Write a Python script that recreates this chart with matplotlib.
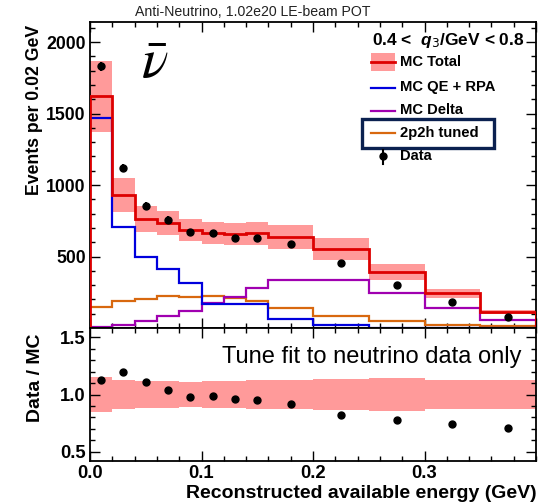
import matplotlib
matplotlib.use('Agg')
import matplotlib.pyplot as plt
import numpy as np
from matplotlib.lines import Line2D
from matplotlib.patches import Rectangle
from matplotlib.ticker import MultipleLocator

plt.rcParams['font.family'] = ['Liberation Sans', 'DejaVu Sans']
plt.rcParams['mathtext.fontset'] = 'custom'
plt.rcParams['mathtext.it'] = 'Liberation Sans:italic:bold'
plt.rcParams['mathtext.bf'] = 'Liberation Sans:bold'
plt.rcParams['mathtext.rm'] = 'Liberation Sans:bold'

# ---------------- data ----------------
bin_edges = [0.0, 0.02, 0.04, 0.06, 0.08, 0.10, 0.12, 0.14, 0.16, 0.20, 0.25, 0.30, 0.35, 0.40]
data_x = [0.01, 0.03, 0.05, 0.07, 0.09, 0.11, 0.13, 0.15, 0.18, 0.225, 0.275, 0.325, 0.375]
data_y = [1831, 1117, 853, 758, 672, 661, 631, 631, 589, 453, 302, 179, 74]
data_err = [32, 28, 25, 23, 22, 22, 21, 21, 17, 14, 11, 9, 6]
mc_total = [1621, 930, 762, 732, 683, 666, 656, 661, 637, 555, 390, 244, 111]
mc_err_frac = [0.154, 0.127, 0.116, 0.115, 0.113, 0.117, 0.115, 0.125, 0.13, 0.137, 0.14, 0.13, 0.125]
mc_qe = [1472, 705, 495, 413, 313, 170, 170, 168, 62, 20, 3, 1, 0]
mc_delta = [8, 22, 46, 87, 118, 174, 217, 280, 338, 335, 245, 143, 58]
mc_2p2h = [144, 187, 200, 225, 219, 224, 207, 190, 140, 86, 51, 23, 11]
ratio_y = [1.130, 1.197, 1.110, 1.035, 0.977, 0.991, 0.965, 0.951, 0.913, 0.817, 0.780, 0.745, 0.707]
ratio_err = [0.018, 0.025, 0.025, 0.025, 0.022, 0.022, 0.022, 0.024, 0.015, 0.012, 0.015, 0.02, 0.03]

legend_labels = ['MC Total', 'MC QE + RPA', 'MC Delta', '2p2h tuned', 'Data']

RED = '#dd0000'
BAND = '#ff9a9a'
BLUE = '#0000dd'
PURPLE = '#a000b0'
ORANGE = '#d8680f'
NAVY = '#0b2150'

W, H = 553, 503
fig = plt.figure(figsize=(W / 100, H / 100), dpi=100)

def fx(px):
    return px / W

def fy(py):
    return 1 - py / H

L, R = 90, 536
ax = fig.add_axes([fx(L), fy(328), fx(R) - fx(L), fy(22) - fy(328)])
axr = fig.add_axes([fx(L), fy(461), fx(R) - fx(L), fy(328) - fy(461)])

edges = np.array(bin_edges)
widths = np.diff(edges)
mc = np.array(mc_total, float)
frac = np.array(mc_err_frac)

# top panel
ax.bar(edges[:-1], 2 * mc * frac, bottom=mc * (1 - frac), width=widths, align='edge',
       color=BAND, linewidth=0, zorder=1)
ax.stairs(mc_2p2h, edges, color=ORANGE, lw=1.6, zorder=2)
ax.stairs(mc_delta, edges, color=PURPLE, lw=1.6, zorder=2)
ax.stairs(mc_qe, edges, color=BLUE, lw=1.6, zorder=2)
ax.stairs(mc_total, edges, color=RED, lw=2.0, zorder=3)
ax.errorbar(data_x, data_y, yerr=data_err, fmt='o', color='black', ms=5, elinewidth=1.5,
            capsize=0, zorder=4)
ax.set_xlim(0, 0.4)
ax.set_ylim(0, 2140)
ax.xaxis.set_major_locator(MultipleLocator(0.1))
ax.xaxis.set_minor_locator(MultipleLocator(0.02))
ax.yaxis.set_major_locator(MultipleLocator(500))
ax.yaxis.set_minor_locator(MultipleLocator(100))
ax.set_xticklabels([])
ax.set_yticks([500, 1000, 1500, 2000])
ax.set_yticklabels(['500', '1000', '1500', '2000'], fontsize=12.7, fontweight='bold')

# ratio panel
axr.bar(edges[:-1], 2 * frac, bottom=1 - frac, width=widths, align='edge',
        color=BAND, linewidth=0, zorder=1)
axr.errorbar(data_x, ratio_y, yerr=ratio_err, fmt='o', color='black', ms=5, elinewidth=1.5,
             capsize=0, zorder=4)
axr.set_xlim(0, 0.4)
axr.set_ylim(0.42, 1.58)
axr.xaxis.set_major_locator(MultipleLocator(0.1))
axr.xaxis.set_minor_locator(MultipleLocator(0.02))
axr.yaxis.set_major_locator(MultipleLocator(0.5))
axr.yaxis.set_minor_locator(MultipleLocator(0.1))
axr.set_xticks([0.0, 0.1, 0.2, 0.3])
axr.set_xticklabels(['0.0', '0.1', '0.2', '0.3'], fontsize=13.3, fontweight='bold')
axr.set_yticks([0.5, 1.0, 1.5])
axr.set_yticklabels(['0.5', '1.0', '1.5'], fontsize=13.3, fontweight='bold')

for a in (ax, axr):
    a.tick_params(which='both', direction='in', top=True, right=True, width=1.0)
    a.tick_params(which='major', length=7, pad=3)
    a.tick_params(which='minor', length=3.5)
    for s in a.spines.values():
        s.set_linewidth(1.3)
axr.tick_params(axis='x', which='major', pad=3)

# texts
fig.text(fx(35), fy(110), 'Events per 0.02 GeV', rotation=90, ha='center', va='center',
         fontsize=12.7, fontweight='bold')
fig.text(fx(35), fy(378), 'Data / MC', rotation=90, ha='center', va='center',
         fontsize=14, fontweight='bold')
fig.text(fx(537), fy(493), 'Reconstructed available energy (GeV)', ha='right', va='center',
         fontsize=14, fontweight='bold')
fig.text(fx(253), fy(12), 'Anti-Neutrino, 1.02e20 LE-beam POT', ha='center', va='center',
         fontsize=10.2, color='#222222')
fig.text(fx(522), fy(357), 'Tune fit to neutrino data only', ha='right', va='center',
         fontsize=17)
fig.text(fx(155), fy(64), r'$\bar{\nu}$', ha='center', va='center', fontsize=40,
         math_fontfamily='stix')
fig.text(fx(525), fy(40), r'0.4 <  $q_{\mathsf{3}}$/GeV < 0.8', ha='right', va='center',
         fontsize=12.5, fontweight='bold')

# legend (manual, figure coordinates)
ys = [62, 87.5, 110.5, 133, 156.5]
hx0, hx1, tx = 371, 395, 400
fig.patches.append(Rectangle((fx(hx0), fy(71)), fx(hx1) - fx(hx0), fy(53) - fy(71),
                             transform=fig.transFigure, color=BAND, lw=0))
colors = [RED, BLUE, PURPLE, ORANGE]
for yy, c in zip(ys[:4], colors):
    fig.lines.append(Line2D([fx(hx0), fx(hx1)], [fy(yy), fy(yy)], transform=fig.transFigure,
                            color=c, lw=2.0 if c == RED else 1.6))
fig.lines.append(Line2D([fx(383)], [fy(ys[4])], transform=fig.transFigure, marker='o',
                        color='black', ms=5))
fig.lines.append(Line2D([fx(383), fx(383)], [fy(ys[4] - 7), fy(ys[4] + 7)],
                        transform=fig.transFigure, color='black', lw=1.5))
for yy, lab in zip(ys, legend_labels):
    fig.text(fx(tx), fy(yy), lab, ha='left', va='center', fontsize=10.6, fontweight='bold')
fig.patches.append(Rectangle((fx(362), fy(148)), fx(494) - fx(362), fy(119) - fy(148),
                             transform=fig.transFigure, fill=False, edgecolor=NAVY, lw=2.4))

fig.savefig('out.png', dpi=100)
